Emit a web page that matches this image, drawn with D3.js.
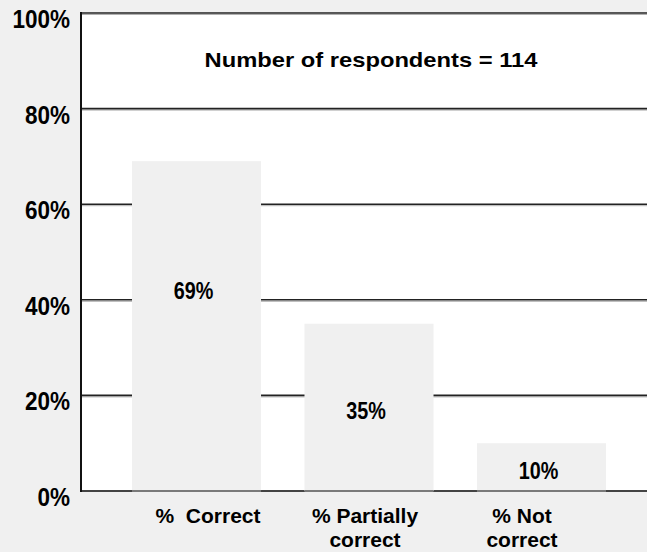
<!DOCTYPE html>
<html>
<head>
<meta charset="utf-8">
<script src="https://cdn.jsdelivr.net/npm/d3@7/dist/d3.min.js"></script>
<style>
  html, body { margin: 0; padding: 0; background: #f0f0f0; }
  svg { display: block; font-family: "Liberation Sans", Arial, sans-serif; font-weight: bold; }
</style>
</head>
<body>
<svg id="chart" width="647" height="552"></svg>
<script>
// Answers to the question, share of respondents
const categories = ["% Correct", "% Partially correct", "% Not correct"];
const categoryLines = [["%  Correct"], ["% Partially", "correct"], ["% Not", "correct"]];
const values = [69, 35, 10];
const yTicks = [0, 20, 40, 60, 80, 100];
const respondents = 114;

const svg = d3.select("#chart");
const plot = { left: 81, right: 660, top: 13, bottom: 491 };

const y = d3.scaleLinear().domain([0, 100]).range([plot.bottom, plot.top]);
const x = d3.scaleBand().domain(categories).range([132, 606]).paddingInner(0.252).paddingOuter(0);
const xLabel = d3.scalePoint().domain(categories).range([208, 522]);

// squeeze a text horizontally to a share of its natural width
function condense(sel, k) {
  sel.each(function () {
    const w = this.getComputedTextLength();
    d3.select(this).attr("textLength", w * k).attr("lengthAdjust", "spacingAndGlyphs");
  });
}

// white plotting area
svg.append("rect")
  .attr("x", plot.left).attr("y", plot.top)
  .attr("width", plot.right - plot.left).attr("height", plot.bottom - plot.top)
  .attr("fill", "#ffffff");

// horizontal gridlines
const grid = svg.append("g");
yTicks.filter(t => t > 0).forEach(t => {
  grid.append("line")
    .attr("x1", plot.left).attr("x2", plot.right)
    .attr("y1", y(t) + 1.5).attr("y2", y(t) + 1.5)
    .attr("stroke", "#b0b0b0").attr("stroke-width", 1);
  grid.append("line")
    .attr("x1", plot.left).attr("x2", plot.right)
    .attr("y1", y(t)).attr("y2", y(t))
    .attr("stroke", "#222").attr("stroke-width", 1.6);
});

// baseline
svg.append("line")
  .attr("x1", plot.left).attr("x2", plot.right)
  .attr("y1", plot.bottom).attr("y2", plot.bottom)
  .attr("stroke", "#444").attr("stroke-width", 2);

// bars
svg.append("g").selectAll("rect")
  .data(values)
  .join("rect")
  .attr("x", (d, i) => x(categories[i]))
  .attr("y", d => y(d))
  .attr("width", x.bandwidth())
  .attr("height", d => y(0) - y(d))
  .attr("fill", "#f0f0f0");

svg.append("g").selectAll("line")
  .data(values)
  .join("line")
  .attr("x1", (d, i) => x(categories[i]))
  .attr("x2", (d, i) => x(categories[i]) + x.bandwidth())
  .attr("y1", plot.bottom).attr("y2", plot.bottom)
  .attr("stroke", "#7a7a7a").attr("stroke-width", 2);

// left axis line
svg.append("line")
  .attr("x1", plot.left).attr("x2", plot.left)
  .attr("y1", plot.top - 1).attr("y2", plot.bottom + 1)
  .attr("stroke", "#111").attr("stroke-width", 2);

// y tick labels
svg.append("g").selectAll("text")
  .data(yTicks)
  .join("text")
  .attr("x", 70)
  .attr("y", d => y(d) + 15)
  .attr("text-anchor", "end")
  .attr("font-size", 25)
  .attr("fill", "#000")
  .text(d => d + "%")
  .call(condense, 0.9);

// value labels
const valueLabelY = [299, 419, 479];
svg.append("g").selectAll("text")
  .data(values)
  .join("text")
  .attr("x", (d, i) => x(categories[i]) + x.bandwidth() / 2 - 3)
  .attr("y", (d, i) => valueLabelY[i])
  .attr("text-anchor", "middle")
  .attr("font-size", 23)
  .attr("fill", "#000")
  .text(d => d + "%")
  .call(condense, 0.86);

// category labels
const cat = svg.append("g");
categories.forEach((c, i) => {
  const t = cat.append("text")
    .attr("x", xLabel(c))
    .attr("y", 523)
    .attr("text-anchor", "middle")
    .attr("font-size", 21)
    .attr("fill", "#000")
    .style("white-space", "pre");
  categoryLines[i].forEach((line, j) => {
    t.append("tspan")
      .attr("x", xLabel(c))
      .attr("dy", j === 0 ? 0 : 24)
      .text(line);
  });
});

// respondent count
svg.append("text")
  .attr("x", 371)
  .attr("y", 67)
  .attr("text-anchor", "middle")
  .attr("font-size", 21)
  .attr("fill", "#000")
  .attr("textLength", 333)
  .attr("lengthAdjust", "spacingAndGlyphs")
  .text("Number of respondents = " + respondents);
</script>
</body>
</html>
